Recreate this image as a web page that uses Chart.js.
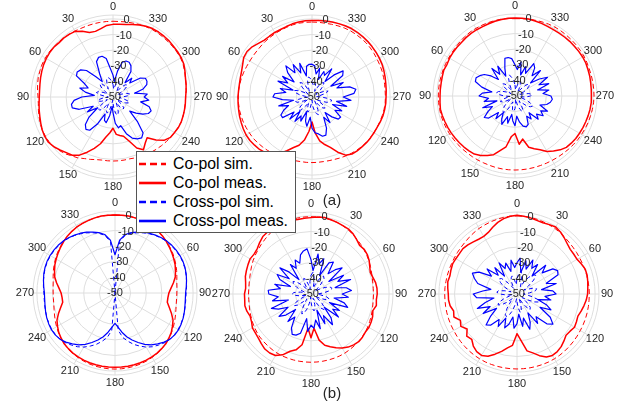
<!DOCTYPE html>
<html>
<head>
<meta charset="utf-8">
<script src="https://cdn.jsdelivr.net/npm/chart.js@4.4.0/dist/chart.umd.min.js"></script>
<style>
  body { margin: 0; background: #fff; }
  #wrap { position: relative; width: 626px; height: 404px; overflow: hidden; font-family: "Liberation Sans", Arial, sans-serif; }
  #wrap canvas { position: absolute; }
  #legend { position: absolute; left: 136px; top: 151px; width: 158px; height: 78px; background: #fff;
            border: 1px solid #555; z-index: 5; padding-top: 2px; box-sizing: content-box; }
  #legend .row { height: 19px; display: flex; align-items: center; font-size: 15.8px; color: #000; white-space: nowrap; }
  #legend svg { margin: 0 7px 0 2px; }
  .tag { position: absolute; font-size: 15px; color: #262626; transform: translate(-50%, -50%); z-index: 4; }
</style>
</head>
<body>
<div id="wrap">
  <canvas id="p1" width="208" height="208" style="left:9px;top:-7px"></canvas>
  <canvas id="p2" width="208" height="208" style="left:208px;top:-7px"></canvas>
  <canvas id="p3" width="208" height="208" style="left:411px;top:-8px"></canvas>
  <canvas id="p4" width="208" height="208" style="left:11px;top:189px"></canvas>
  <canvas id="p5" width="208" height="208" style="left:207px;top:190px"></canvas>
  <canvas id="p6" width="208" height="208" style="left:413px;top:190px"></canvas>
  <div id="legend">
    <div class="row"><svg width="27" height="4"><line x1="0" y1="2" x2="27" y2="2" stroke="#ff0000" stroke-width="2.6" stroke-dasharray="7,4"/></svg>Co-pol sim.</div>
    <div class="row"><svg width="27" height="4"><line x1="0" y1="2" x2="27" y2="2" stroke="#ff0000" stroke-width="2.6"/></svg>Co-pol meas.</div>
    <div class="row"><svg width="27" height="4"><line x1="0" y1="2" x2="27" y2="2" stroke="#0000ff" stroke-width="2.6" stroke-dasharray="7,4"/></svg>Cross-pol sim.</div>
    <div class="row"><svg width="27" height="4"><line x1="0" y1="2" x2="27" y2="2" stroke="#0000ff" stroke-width="2.6"/></svg>Cross-pol meas.</div>
  </div>
  <div class="tag" style="left:332px;top:199px">(a)</div>
  <div class="tag" style="left:332px;top:392px">(b)</div>
</div>
<script>
// angles 0..355 step 5 (deg), radial ticks in dB
const angles = Array.from({length: 72}, (_, i) => i * 5);
const rTicks = [0, -10, -20, -30, -40, -50];
const rMin = -50;
const rMax = 2.5;

// ---- (a) left ----
const a1CoSim = [
  -1.5,-1.5,-1.5,-1.5,-1.5,-1.5,-1.2,-1,-0.8,-0.5,-0.3,0,
  0,0,-0.3,-0.5,-1,-1.5,-2,-2,-1.5,-1,-0.5,0,
  0,0,-0.5,-1.5,-2.5,-4,-5,-6.5,-7.5,-8.5,-9,-9,
  -9,-9,-9,-9,-8.5,-8,-7.5,-7,-6.5,-6,-5.5,-5,
  -4.5,-4,-3.5,-3.5,-3.5,-3.5,-3.5,-3,-2.5,-2,-1.2,-0.5,
  0,0,0,0,0,0,0,-0.3,-0.6,-1,-1.2,-1.5];
const a1CoMeas = [
  -3.5,-4,-5.5,-6.5,-6,-3.5,-1.5,-1,-0.8,-1,-0.5,-0.5,
  -0.7,-1,-1.5,-2,-2.5,-2.8,-2.8,-2.5,-2,-1.5,-0.8,0,
  0.5,0.5,-0.5,-2,-3.5,-4.5,-7,-11,-15,-19,-24,-27,
  -30,-26,-25,-24,-20,-14,-11,-14,-16,-11,-7,-5,
  -4.5,-3.8,-3.5,-3.5,-3.5,-3.5,-3.5,-3,-2.5,-2,-1,0,
  0.4,0.5,0.5,0.8,0.8,0.8,0.6,0,-1,-2,-2.8,-3.2];
const a1XSim = [
  -42,-40,-38,-37,-38,-41,-44,-42,-39,-38,-40,-44,
  -46,-43,-40,-39,-41,-45,-47,-44,-41,-40,-42,-46,
  -44,-40,-38,-38,-41,-45,-43,-40,-39,-41,-45,-48,
  -46,-42,-39,-38,-40,-44,-46,-42,-40,-40,-43,-47,
  -45,-41,-39,-40,-43,-46,-44,-40,-39,-41,-45,-47,
  -44,-40,-38,-39,-42,-46,-44,-41,-39,-40,-43,-45];
const a1XMeas = [
  -36,-32,-25,-23,-23,-25,-33,-38,-33,-26,-23,-22,
  -23,-30,-33,-28,-32,-38,-30,-25,-23,-23,-27,-36,
  -31,-38,-30,-25,-23,-24,-30,-38,-34,-33,-38,-44,
  -40,-33,-30,-31,-25,-21,-19,-18,-20,-28,-36,-32,
  -28,-25,-24,-26,-32,-27,-30,-28,-36,-30,-27,-26,
  -26,-29,-36,-33,-38,-30,-27,-25.5,-25.5,-27,-33,-40];

// ---- (a) middle ----
const a2CoSim = [
  -2,-2,-2,-2.2,-2.5,-2.8,-3,-3.3,-3.5,-3.8,-4,-4,
  -4,-3.8,-3.5,-3.2,-3,-2.8,-2.8,-2.8,-2.8,-3,-3.2,-3.5,
  -3.8,-4,-4.5,-5,-5.5,-6,-6.5,-7,-7.5,-7.8,-8,-8,
  -8,-8,-8,-7.8,-7.5,-7,-6.5,-6,-5.5,-5,-4.8,-4.5,
  -4.3,-4,-3.8,-3.5,-3.2,-3,-3,-3,-2.8,-2.5,-2.2,-2,
  -1.8,-1.5,-1.2,-1,-1,-1,-1,-1.2,-1.5,-1.8,-2,-2];
const a2CoMeas = [
  -1,-1,-1.2,-1.5,-2,-2.3,-2.3,-2.5,-2.5,-1.5,0,0.8,
  0.5,-1,-2,-2.5,-2.8,-2.8,-2.6,-2.5,-2.3,-2,-1.8,-1.5,
  -1.3,-1.5,-2,-2.5,-3.5,-5,-8,-12,-15.6,-18,-22,-28,
  -34,-27,-21.5,-18.5,-15.7,-11,-7,-5.4,-5,-4.8,-4.5,-4.3,
  -4.2,-4,-3.5,-3,-2.8,-2.6,-2.6,-2.3,-2,-1.5,-1,-0.5,
  -0.2,0,0.2,0.4,0.5,0.6,0.6,0.3,0,-0.3,-0.6,-0.8];
const a2XSim = [
  -40,-38,-37,-39,-43,-46,-42,-39,-38,-41,-45,-47,
  -44,-40,-38,-39,-42,-46,-48,-45,-41,-39,-40,-44,
  -47,-43,-40,-38,-39,-43,-46,-44,-41,-40,-42,-46,
  -48,-44,-41,-39,-38,-41,-45,-47,-43,-40,-39,-42,
  -46,-44,-40,-38,-37,-40,-44,-47,-45,-41,-39,-41,
  -45,-47,-43,-40,-38,-39,-42,-46,-44,-41,-40,-42];
const a2XMeas = [
  -29,-29,-30,-36,-27,-33,-26,-31,-24,-28,-35,-27,
  -32,-26,-37,-29,-33,-26,-25,-31,-38,-28,-34,-30,
  -27,-27,-35,-30,-38,-31,-36,-33,-40,-34,-31,-37,
  -30,-27,-26,-24,-24,-28,-35,-30,-37,-32,-28,-27.6,
  -33,-29,-36,-27,-34,-25,-30,-23,-21.5,-25,-33,-28,
  -36,-26,-24,-30,-37,-28,-34,-32,-38,-31,-35,-30];

// ---- (a) right ----
const a3CoSim = [
  -0.5,-0.3,0,0,0,0,0,0,-0.2,-0.5,-0.8,-1,
  -1,-1,-1,-1,-0.9,-0.9,-0.9,-0.9,-1,-1,-1.2,-1.4,
  -1.6,-1.8,-2,-2.2,-2.4,-2.5,-2.6,-2.7,-2.7,-2.6,-2.6,-2.6,
  -2.6,-2.6,-2.6,-2.6,-2.6,-2.5,-2.4,-2.2,-2,-1.7,-1.4,-1,
  -0.8,-0.5,-0.2,0,0.3,0.5,0.6,0.6,0.6,0.6,0.6,0.8,
  1,1,1,1,1,1,1,0.8,0.5,0.2,0,-0.3];
const a3CoMeas = [
  0,0,-0.3,-0.5,-0.8,-1,-1,-1,-1.2,-1.5,-1.5,-1.5,
  -1.6,-2,-1.5,-1.8,-2,-2,-2,-1.8,-1.5,-1.8,-2.2,-2.5,
  -2.8,-3.2,-3.5,-3.8,-4.2,-4.6,-6,-8,-10,-14,-17,-24,
  -26,-19,-22,-16,-14,-12,-9,-7,-5,-3.5,-3,-2.5,
  -2.3,-2,-1.8,-1.5,-1.2,-1,-1.1,-1,-0.8,-0.5,-0.3,0,
  0,-0.2,-0.4,-0.5,-0.7,-0.8,-0.9,-0.8,-0.5,-0.3,0,0];
const a3XSim = [
  -43,-40,-38,-36,-38,-42,-46,-44,-40,-39,-41,-45,
  -47,-44,-41,-39,-38,-40,-43,-47,-45,-42,-40,-41,
  -44,-47,-43,-40,-38,-37,-39,-43,-46,-44,-41,-40,
  -42,-45,-48,-44,-41,-39,-40,-43,-46,-44,-40,-38,
  -37,-39,-42,-46,-47,-43,-40,-39,-41,-45,-47,-44,
  -41,-39,-38,-40,-44,-47,-45,-42,-40,-41,-44,-46];
const a3XMeas = [
  -30,-26,-25,-25,-31,-36,-28,-33,-27,-35,-30,-26,
  -24,-22.5,-23,-28,-35,-29,-27,-33,-30,-38,-28,-34,
  -30,-26,-28,-35,-31,-37,-33,-30,-36,-32,-38,-34,
  -31,-37,-33,-30,-29,-30,-35,-32,-36,-29,-32,-28,
  -31,-27,-33,-29,-27,-26,-27,-32,-28,-35,-27,-33,
  -26,-31,-37,-27,-33,-28,-26,-34,-30,-36,-28,-33];

// ---- (b) left ----
const b1CoSim = [
  0,0,0,-0.2,-0.5,-0.8,-1.2,-1.8,-2.5,-3.3,-4.2,-5,
  -6,-7,-8,-9,-9.8,-10.2,-10.4,-10.4,-10.2,-9.6,-8.8,-7.8,
  -6.8,-5.8,-4.8,-4,-3.3,-2.8,-2.4,-2,-1.7,-1.5,-1.4,-1.3,
  -1.3,-1.3,-1.4,-1.5,-1.7,-2,-2.4,-2.8,-3.3,-4,-4.8,-5.8,
  -6.8,-7.8,-8.8,-9.6,-10.2,-10.4,-10.4,-10.2,-9.8,-9,-8,-7,
  -6,-5,-4.2,-3.3,-2.5,-1.8,-1.2,-0.8,-0.5,-0.2,0,0];
const b1CoMeas = [
  0,0,0,-0.2,-0.5,-0.8,-1.2,-1.8,-2.5,-3.5,-4.5,-5.5,
  -6.5,-7.5,-8.8,-10,-12,-14,-15.5,-16,-16,-14,-11.5,-9,
  -7.5,-6,-5,-4,-3.5,-3,-2.8,-2.6,-2.5,-2.4,-2.4,-2.4,
  -2.4,-2.4,-2.4,-2.4,-2.5,-2.6,-2.8,-3,-3.5,-4,-5,-6,
  -7.5,-9,-11.5,-14,-16,-16,-15.5,-14,-12,-10,-8.8,-7.5,
  -6.5,-5.5,-4.5,-3.5,-2.5,-1.8,-1.2,-0.8,-0.5,-0.2,0,0];
const b1XSim = [
  -50,-17,-12.5,-10.5,-9,-7.5,-6.2,-5,-4,-3.3,-2.8,-2.5,
  -2.3,-2.3,-2.5,-3,-3.5,-4,-4.5,-4.5,-4.3,-4,-3.6,-3.4,
  -3.3,-3.5,-4,-5,-6.5,-8,-10,-12.5,-15,-18,-21,-26,
  -50,-26,-21,-18,-15,-12.5,-10,-8,-6.5,-5,-4,-3.5,
  -3.3,-3.4,-3.6,-4,-4.3,-4.5,-4.5,-4,-3.5,-3,-2.5,-2.3,
  -2.3,-2.5,-2.8,-3.3,-4,-5,-6.2,-7.5,-9,-10.5,-12.5,-17];
const b1XMeas = [
  -25.5,-16,-12,-10,-8.5,-7,-5.8,-4.8,-3.8,-3,-2.5,-2.2,
  -2,-2,-2.3,-2.8,-3.5,-4.2,-4.8,-4.8,-4.5,-4,-3.5,-3.2,
  -3,-3.3,-4,-5.5,-7.5,-9.5,-12,-15,-18,-21,-24.5,-28,
  -30.6,-28,-24.5,-21,-18,-15,-12,-9.5,-7.5,-5.5,-4,-3.3,
  -3,-3.2,-3.5,-4,-4.5,-4.8,-4.8,-4.2,-3.5,-2.8,-2.3,-2,
  -2,-2.2,-2.5,-3,-3.8,-4.8,-5.8,-7,-8.5,-10,-12,-16];

// ---- (b) middle ----
const b2CoSim = [
  -0.5,-0.5,-0.6,-0.8,-1.2,-1.8,-2.5,-3.3,-4.2,-5,-5.8,-6.5,
  -7.2,-8,-8.8,-9.4,-9.8,-10,-10,-10,-9.8,-9.4,-9,-8.5,
  -8,-7.6,-7.2,-7,-6.8,-6.6,-6.4,-6.3,-6.3,-6.3,-6.3,-6.3,
  -6.3,-6.3,-6.3,-6.3,-6.3,-6.3,-6.4,-6.6,-6.8,-7,-7.2,-7.6,
  -8,-8.5,-9,-9.4,-9.8,-10,-10,-10,-9.8,-9.4,-8.8,-8,
  -7.2,-6.5,-5.8,-5,-4.2,-3.3,-2.5,-1.8,-1.2,-0.8,-0.6,-0.5];
const b2CoMeas = [
  -1.1,-0.5,-0.3,-0.8,-1.2,-1.7,-2,-3,-4.5,-6,-5.5,-6,
  -7,-8.5,-9.6,-9,-8,-7.6,-7.6,-8,-7.5,-9,-8,-7.5,
  -7.2,-7.5,-7,-6.8,-7.5,-8.5,-10,-12,-14,-16,-20,-28,
  -22,-28,-17,-13,-11,-7,-4.5,-3.9,-4,-5,-6,-6.5,
  -6.7,-8,-8.5,-7.5,-7,-7.4,-7.4,-8,-7.5,-6.5,-6,-5.5,
  -5,-5.5,-5,-3.5,-2,-1.5,-1.2,-1,-1,-1.2,-1.5,-1.3];
const b2XSim = [
  -38,-36,-39,-43,-46,-42,-38,-36,-37,-41,-45,-47,
  -44,-40,-37,-36,-38,-42,-46,-44,-40,-38,-39,-43,
  -47,-45,-41,-38,-37,-39,-44,-47,-43,-40,-39,-41,
  -45,-48,-44,-40,-37,-36,-39,-43,-46,-43,-39,-37,
  -38,-42,-46,-47,-43,-40,-38,-39,-43,-46,-44,-40,
  -37,-36,-38,-42,-46,-45,-41,-39,-40,-44,-47,-42];
const b2XMeas = [
  -28,-35,-24,-30,-26,-37,-27,-25,-33,-28,-24,-36,
  -26,-31,-23,-34,-27,-24,-30,-26,-35,-28,-25,-37,
  -29,-33,-27,-38,-30,-26,-34,-29,-39,-27,-33,-28,
  -30,-26,-34,-24,-22,-21.5,-25,-32,-27,-36,-29,-25,
  -33,-27,-23,-35,-25,-29,-23,-22.5,-30,-26,-36,-28,
  -25,-33,-24,-30,-38,-27,-31,-26,-29,-24,-22,-21];

// ---- (b) right ----
const b3CoSim = [
  0,0,-0.2,-0.5,-0.8,-1.2,-1.5,-2,-2.5,-3,-3.3,-3.5,
  -3.7,-3.8,-3.8,-3.8,-3.8,-3.7,-3.7,-3.7,-3.6,-3.5,-3.4,-3.3,
  -3.2,-3,-2.8,-2.6,-2.4,-2.2,-2.1,-2,-2,-2,-2,-2,
  -2,-2,-2,-2,-2,-2,-2.1,-2.2,-2.4,-2.6,-2.8,-3,
  -3.2,-3.3,-3.4,-3.5,-3.6,-3.7,-3.7,-3.7,-3.8,-3.8,-3.8,-3.8,
  -3.7,-3.5,-3.3,-3,-2.5,-2,-1.5,-1.2,-0.8,-0.5,-0.2,0];
const b3CoMeas = [
  0.4,0,-0.5,-1.2,-1.5,-1,-0.5,-1.5,-3,-4.5,-5.5,-5.6,
  -5.6,-4.5,-3.5,-3.5,-4,-4.5,-4.8,-5.5,-6.5,-7.5,-8.5,-8,
  -7.5,-8.5,-9,-7.5,-6,-5,-4.6,-5.5,-8,-11,-13,-20,
  -24.6,-17,-15,-12,-9,-6,-4.6,-5,-6.5,-9,-8,-11,
  -8.5,-10,-7,-8,-6.5,-6,-6,-5.5,-5,-5.5,-5,-4.5,
  -4.8,-5,-4.8,-5.5,-6.5,-7.2,-7.4,-6.5,-4.5,-2.5,-1,0];
const b3XSim = [
  -40,-37,-35,-38,-42,-45,-41,-37,-34,-33,-36,-41,
  -45,-43,-39,-37,-38,-42,-46,-44,-40,-36,-35,-38,
  -43,-46,-42,-38,-37,-40,-44,-47,-43,-39,-38,-41,
  -45,-47,-43,-39,-36,-34,-35,-39,-44,-46,-42,-38,
  -36,-37,-41,-45,-47,-43,-39,-37,-38,-42,-46,-44,
  -40,-37,-35,-36,-40,-44,-46,-42,-39,-38,-41,-44];
const b3XMeas = [
  -30,-27,-36,-28,-33,-26,-31,-27,-35,-24,-29,-22,
  -20,-21,-30,-24,-34,-27,-25,-32,-28,-36,-30,-26,
  -33,-24,-20,-23,-31,-27,-36,-30,-26,-34,-29,-37,
  -31,-28,-35,-30,-27,-33,-26,-30,-24,-22,-28,-34,
  -25,-31,-23,-29,-35,-24,-22,-28,-33,-24,-21,-18.5,
  -22,-30,-25,-33,-28,-36,-27,-32,-29,-35,-28,-33];

const RED = '#ff0000';
const BLUE = '#0000ff';
const GRID = '#dedede';
const TXT = '#262626';

// angle labels and dB labels, placed through the radial scale
const polarText = {
  id: 'polarText',
  afterDatasetsDraw(chart) {
    const r = chart.scales.r;
    const ctx = chart.ctx;
    ctx.save();
    ctx.font = '11px "Liberation Sans", Arial, sans-serif';
    ctx.fillStyle = TXT;
    ctx.textAlign = 'center';
    ctx.textBaseline = 'middle';
    chart.data.labels.forEach((lab, i) => {
      if (i % 6) return;
      const p = r.getPointPosition(i, r.drawingArea + 8);
      ctx.fillText(String(lab), p.x, p.y);
    });
    rTicks.forEach(v => {
      const p = r.getPointPosition(0, r.getDistanceFromCenterForValue(v), 10 * Math.PI / 180);
      ctx.fillText(String(v), p.x, p.y);
    });
    ctx.restore();
  }
};

function makeChart(id, coSim, coMeas, xSim, xMeas, ccw) {
  // top row runs counter-clockwise, bottom row clockwise
  const idx = i => ccw ? (72 - i) % 72 : i;
  const ord = arr => angles.map((_, i) => arr[idx(i)]);
  const labels = angles.map((_, i) => angles[idx(i)]);
  return new Chart(document.getElementById(id), {
    type: 'radar',
    data: {
      labels: labels,
      datasets: [
        { label: 'Cross-pol meas.', data: ord(xMeas), borderColor: BLUE, borderWidth: 1.2 },
        { label: 'Cross-pol sim.', data: ord(xSim), borderColor: BLUE, borderWidth: 1, borderDash: [4, 3] },
        { label: 'Co-pol meas.', data: ord(coMeas), borderColor: RED, borderWidth: 1.5 },
        { label: 'Co-pol sim.', data: ord(coSim), borderColor: RED, borderWidth: 1, borderDash: [5, 3] }
      ]
    },
    options: {
      responsive: false,
      animation: false,
      layout: { padding: 22 },
      elements: {
        line: { tension: 0, fill: false, borderJoinStyle: 'round' },
        point: { radius: 0, hitRadius: 0 }
      },
      plugins: { legend: { display: false }, tooltip: { enabled: false } },
      scales: {
        r: {
          min: rMin,
          max: rMax,
          afterBuildTicks: s => { s.ticks = rTicks.slice().reverse().concat([rMax]).map(v => ({ value: v })); },
          ticks: { display: false },
          pointLabels: { display: false },
          grid: { circular: true, color: GRID, lineWidth: 1 },
          angleLines: { color: GRID, lineWidth: c => (c.index % 6 === 0 ? 1 : 0) }
        }
      }
    },
    plugins: [polarText]
  });
}

makeChart('p1', a1CoSim, a1CoMeas, a1XSim, a1XMeas, true);
makeChart('p2', a2CoSim, a2CoMeas, a2XSim, a2XMeas, true);
makeChart('p3', a3CoSim, a3CoMeas, a3XSim, a3XMeas, true);
makeChart('p4', b1CoSim, b1CoMeas, b1XSim, b1XMeas, false);
makeChart('p5', b2CoSim, b2CoMeas, b2XSim, b2XMeas, false);
makeChart('p6', b3CoSim, b3CoMeas, b3XSim, b3XMeas, false);
</script>
</body>
</html>
